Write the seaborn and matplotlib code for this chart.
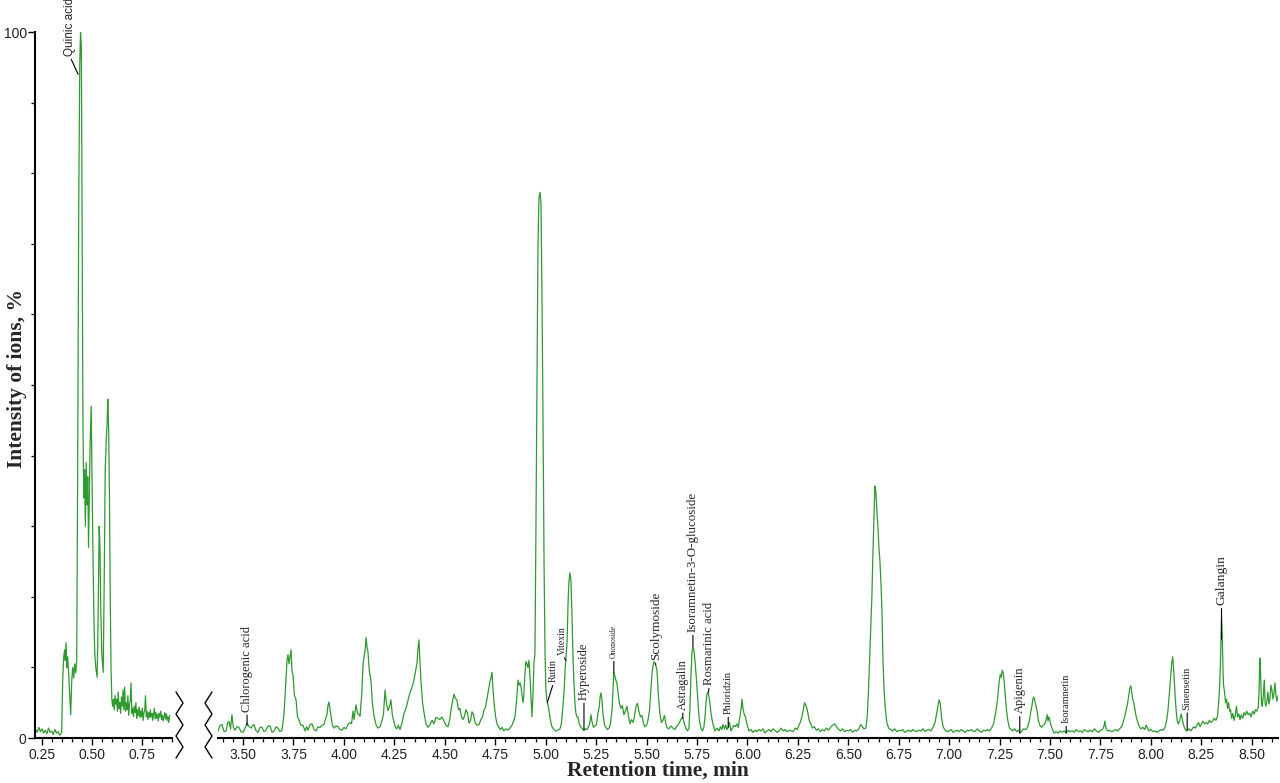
import matplotlib
matplotlib.use("Agg")
import matplotlib.pyplot as plt
from matplotlib.lines import Line2D
from matplotlib.ticker import MultipleLocator, FormatStrFormatter, FixedLocator
import pandas as pd
import seaborn as sns

# early part of the run (0.2 - 0.9 min)
left_time = [0.22, 0.228, 0.236, 0.244, 0.252, 0.26, 0.268, 0.276, 0.284, 0.292, 0.30, 0.308, 0.316,
             0.324, 0.332, 0.34, 0.35, 0.355, 0.36, 0.365, 0.368, 0.372, 0.376, 0.38, 0.385, 0.39,
             0.395, 0.40, 0.405, 0.41, 0.415, 0.42, 0.425, 0.43, 0.435, 0.44, 0.444, 0.448, 0.452,
             0.456, 0.46, 0.464, 0.468, 0.472, 0.476, 0.48, 0.484, 0.488, 0.492, 0.497, 0.50, 0.505,
             0.51, 0.515, 0.52, 0.527, 0.532, 0.537, 0.541, 0.545, 0.55, 0.557, 0.562, 0.567, 0.572,
             0.577, 0.58, 0.584, 0.588, 0.592, 0.596, 0.60, 0.604, 0.608, 0.612, 0.616, 0.62, 0.624,
             0.628, 0.632, 0.636, 0.64, 0.644, 0.648, 0.652, 0.656, 0.66, 0.664, 0.668, 0.672, 0.676,
             0.68, 0.684, 0.688, 0.692, 0.696, 0.70, 0.704, 0.708, 0.712, 0.716, 0.72, 0.724, 0.728,
             0.732, 0.736, 0.74, 0.744, 0.748, 0.752, 0.756, 0.76, 0.764, 0.768, 0.772, 0.776, 0.78,
             0.784, 0.788, 0.792, 0.796, 0.80, 0.804, 0.808, 0.812, 0.816, 0.82, 0.824, 0.828, 0.832,
             0.836, 0.84, 0.844, 0.848, 0.852, 0.856, 0.86, 0.864, 0.868, 0.872, 0.876, 0.88, 0.884,
             0.888]
left_int = [1.2, 0.8, 1.5, 0.9, 1.3, 0.7, 1.1, 0.6, 1.4, 0.8, 1.0, 0.5, 1.2,
            0.7, 0.9, 0.4, 0.8, 8.0, 11.5, 12.5, 11.0, 13.5, 10.0, 11.5, 9.0, 6.0,
            3.3, 8.0, 10.0, 8.5, 10.5, 9.2, 11.0, 40, 75, 95, 100, 98, 70,
            45, 34, 38, 30, 39, 33, 37, 27, 35, 42, 47, 40, 28,
            18, 12, 10, 8.6, 18, 30, 27, 18, 12, 9.3, 22, 38, 42,
            45, 48, 44, 35, 20, 10, 5.5, 4.5, 5.5, 4.0, 6.0, 4.8, 5.5,
            3.8, 6.5, 4.2, 5.0, 3.5, 5.8, 4.5, 6.8, 4.0, 7.2, 3.8, 5.0, 4.0,
            6.0, 3.2, 4.8, 5.2, 7.8, 3.5, 4.2, 3.0, 4.5, 3.6, 5.0, 2.8, 4.0,
            3.2, 4.4, 2.9, 3.8, 3.0, 4.2, 2.5, 3.5, 4.0, 6.0, 3.0, 3.8, 2.6,
            3.6, 2.9, 4.0, 3.0, 3.5, 2.5, 3.4, 4.2, 2.7, 3.6, 2.8, 3.3, 2.4,
            3.5, 3.0, 3.8, 2.6, 3.2, 2.4, 3.0, 3.6, 2.7, 3.4, 2.5, 3.0, 2.2,
            3.2]

# main part of the run (3.4 - 8.6 min)
right_time = [3.376, 3.386, 3.396, 3.406, 3.416, 3.424, 3.431, 3.438, 3.445, 3.452, 3.460, 3.470, 3.480,
              3.490, 3.500, 3.510, 3.520, 3.530, 3.540, 3.548, 3.555, 3.565, 3.574, 3.584, 3.594, 3.604,
              3.614, 3.624, 3.634, 3.644, 3.654, 3.664, 3.673, 3.683, 3.693, 3.703, 3.713, 3.718, 3.723,
              3.728, 3.733, 3.738, 3.743, 3.748, 3.755, 3.763, 3.770, 3.778, 3.787, 3.797, 3.808, 3.815,
              3.822, 3.832, 3.842, 3.852, 3.862, 3.872, 3.882, 3.891, 3.901, 3.910, 3.916, 3.921, 3.926,
              3.931, 3.936, 3.943, 3.951, 3.961, 3.971, 3.981, 3.991, 4.000, 4.010, 4.020, 4.030, 4.038,
              4.045, 4.050, 4.060, 4.068, 4.075, 4.080, 4.088, 4.095, 4.100, 4.105, 4.110, 4.115, 4.119,
              4.126, 4.134, 4.141, 4.149, 4.159, 4.169, 4.179, 4.189, 4.196, 4.204, 4.211, 4.219, 4.226,
              4.233, 4.240, 4.248, 4.256, 4.263, 4.270, 4.278, 4.288, 4.298, 4.308, 4.318, 4.325, 4.333,
              4.340, 4.347, 4.355, 4.362, 4.367, 4.372, 4.377, 4.382, 4.390, 4.397, 4.407, 4.417, 4.427,
              4.437, 4.446, 4.456, 4.466, 4.476, 4.486, 4.496, 4.506, 4.516, 4.524, 4.531, 4.539, 4.546,
              4.553, 4.560, 4.568, 4.575, 4.583, 4.590, 4.598, 4.605, 4.613, 4.620, 4.628, 4.635, 4.643,
              4.650, 4.660, 4.670, 4.679, 4.687, 4.694, 4.702, 4.709, 4.716, 4.724, 4.729, 4.734, 4.739,
              4.744, 4.752, 4.759, 4.767, 4.774, 4.784, 4.793, 4.803, 4.813, 4.823, 4.833, 4.840, 4.848,
              4.855, 4.860, 4.863, 4.868, 4.873, 4.878, 4.883, 4.888, 4.892, 4.897, 4.902, 4.907, 4.912,
              4.917, 4.922, 4.927, 4.932, 4.937, 4.942, 4.947, 4.952, 4.957, 4.962, 4.967, 4.972, 4.977,
              4.982, 4.987, 4.992, 4.997, 5.001, 5.006, 5.011, 5.016, 5.021, 5.026, 5.031, 5.041, 5.051,
              5.061, 5.071, 5.078, 5.086, 5.092, 5.096, 5.101, 5.106, 5.111, 5.115, 5.120, 5.125, 5.130,
              5.135, 5.140, 5.145, 5.150, 5.155, 5.160, 5.167, 5.175, 5.182, 5.190, 5.197, 5.205, 5.212,
              5.218, 5.225, 5.229, 5.237, 5.244, 5.252, 5.259, 5.266, 5.270, 5.274, 5.279, 5.284, 5.292,
              5.299, 5.306, 5.314, 5.321, 5.329, 5.334, 5.338, 5.343, 5.348, 5.353, 5.358, 5.365, 5.373,
              5.380, 5.388, 5.395, 5.403, 5.410, 5.418, 5.425, 5.433, 5.440, 5.448, 5.455, 5.462, 5.470,
              5.477, 5.485, 5.492, 5.500, 5.507, 5.515, 5.522, 5.527, 5.532, 5.537, 5.542, 5.547, 5.552,
              5.559, 5.566, 5.574, 5.581, 5.589, 5.596, 5.601, 5.611, 5.621, 5.631, 5.641, 5.648, 5.656,
              5.663, 5.670, 5.676, 5.680, 5.688, 5.695, 5.703, 5.710, 5.715, 5.720, 5.725, 5.730, 5.735,
              5.740, 5.747, 5.755, 5.762, 5.770, 5.777, 5.784, 5.790, 5.795, 5.799, 5.804, 5.809, 5.814,
              5.821, 5.829, 5.839, 5.849, 5.859, 5.866, 5.873, 5.879, 5.886, 5.893, 5.898, 5.905, 5.912,
              5.918, 5.926, 5.933, 5.940, 5.948, 5.955, 5.960, 5.965, 5.970, 5.973, 5.978, 5.983, 5.990,
              5.998, 6.007, 6.017, 6.027, 6.037, 6.047, 6.057, 6.067, 6.077, 6.087, 6.097, 6.107, 6.117,
              6.127, 6.137, 6.147, 6.157, 6.167, 6.177, 6.187, 6.197, 6.207, 6.217, 6.227, 6.237, 6.247,
              6.255, 6.262, 6.270, 6.277, 6.283, 6.290, 6.295, 6.300, 6.307, 6.315, 6.322, 6.332, 6.342,
              6.352, 6.362, 6.372, 6.382, 6.392, 6.402, 6.412, 6.422, 6.432, 6.442, 6.452, 6.462, 6.472,
              6.482, 6.492, 6.502, 6.512, 6.522, 6.532, 6.542, 6.552, 6.562, 6.570, 6.577, 6.587, 6.594,
              6.600, 6.607, 6.612, 6.617, 6.622, 6.627, 6.632, 6.637, 6.642, 6.647, 6.652, 6.657, 6.662,
              6.667, 6.672, 6.677, 6.684, 6.691, 6.700, 6.710, 6.720, 6.730, 6.740, 6.750, 6.760, 6.770,
              6.780, 6.790, 6.800, 6.810, 6.820, 6.830, 6.840, 6.850, 6.860, 6.870, 6.880, 6.890, 6.900,
              6.910, 6.920, 6.930, 6.938, 6.945, 6.950, 6.956, 6.962, 6.970, 6.980, 6.990, 7.000, 7.010,
              7.020, 7.030, 7.040, 7.050, 7.060, 7.070, 7.080, 7.090, 7.100, 7.110, 7.120, 7.130, 7.140,
              7.150, 7.160, 7.170, 7.180, 7.190, 7.200, 7.210, 7.220, 7.230, 7.240, 7.248, 7.253, 7.258,
              7.263, 7.268, 7.273, 7.278, 7.284, 7.290, 7.298, 7.306, 7.315, 7.325, 7.335, 7.345, 7.352,
              7.360, 7.370, 7.380, 7.390, 7.398, 7.405, 7.410, 7.415, 7.420, 7.425, 7.430, 7.436, 7.442,
              7.450, 7.458, 7.466, 7.474, 7.480, 7.486, 7.490, 7.494, 7.499, 7.505, 7.512, 7.520, 7.530,
              7.540, 7.550, 7.560, 7.570, 7.580, 7.590, 7.600, 7.610, 7.620, 7.630, 7.640, 7.650, 7.660,
              7.670, 7.680, 7.690, 7.700, 7.710, 7.720, 7.730, 7.740, 7.750, 7.760, 7.767, 7.772, 7.778,
              7.785, 7.795, 7.805, 7.815, 7.825, 7.835, 7.845, 7.855, 7.863, 7.870, 7.878, 7.885, 7.890,
              7.895, 7.900, 7.905, 7.910, 7.915, 7.920, 7.925, 7.932, 7.940, 7.950, 7.960, 7.970, 7.976,
              7.982, 7.990, 8.000, 8.010, 8.020, 8.030, 8.040, 8.050, 8.060, 8.070, 8.078, 8.085, 8.092,
              8.098, 8.103, 8.108, 8.112, 8.116, 8.120, 8.125, 8.130, 8.136, 8.143, 8.150, 8.155, 8.160,
              8.167, 8.175, 8.182, 8.190, 8.198, 8.205, 8.212, 8.220, 8.228, 8.236, 8.244, 8.250, 8.258,
              8.266, 8.274, 8.282, 8.290, 8.298, 8.306, 8.314, 8.322, 8.330, 8.336, 8.340, 8.343, 8.346,
              8.350, 8.354, 8.357, 8.360, 8.365, 8.370, 8.375, 8.380, 8.385, 8.390, 8.395, 8.400, 8.406,
              8.412, 8.418, 8.424, 8.430, 8.436, 8.442, 8.448, 8.455, 8.462, 8.468, 8.475, 8.482, 8.490,
              8.497, 8.505, 8.512, 8.518, 8.525, 8.532, 8.536, 8.540, 8.544, 8.548, 8.552, 8.557, 8.562,
              8.566, 8.570, 8.575, 8.580, 8.585, 8.590, 8.595, 8.600, 8.605, 8.610, 8.615, 8.620, 8.625,
              8.630]
right_int = [1.0, 1.8, 1.9, 0.9, 1.0, 2.2, 2.3, 1.3, 3.3, 1.5, 1.1, 1.6, 1.5,
             0.9, 0.8, 1.4, 2.1, 1.6, 1.4, 1.8, 1.9, 1.0, 0.8, 1.5, 1.5, 0.9,
             1.1, 1.7, 1.7, 0.8, 1.0, 1.6, 1.4, 0.9, 1.1, 3.3, 8.2, 11.0, 11.8,
             10.5, 11.5, 12.5, 9.5, 8.9, 6.0, 5.4, 3.0, 2.5, 1.8, 1.8, 1.0, 1.6,
             1.1, 1.9, 2.0, 1.2, 1.0, 1.6, 1.5, 1.8, 1.9, 2.8, 3.3, 4.6, 5.1,
             4.2, 3.2, 1.8, 1.4, 1.7, 1.6, 1.2, 1.1, 1.5, 1.3, 1.9, 2.2, 2.0,
             3.8, 2.6, 4.7, 3.5, 3.3, 3.1, 6.0, 10.5, 11.5, 12.4, 14.2, 12.8, 12.3,
             9.5, 8.2, 5.0, 3.2, 1.9, 1.4, 1.6, 2.5, 3.3, 6.8, 4.8, 3.9, 4.5,
             5.4, 3.3, 2.3, 1.5, 1.3, 1.8, 1.2, 2.1, 3.5, 4.2, 5.4, 6.2, 6.8,
             7.4, 8.2, 9.4, 10.5, 12.5, 13.9, 11.0, 8.0, 5.0, 3.6, 2.0, 1.5, 1.9,
             2.5, 2.0, 2.9, 2.8, 2.6, 3.0, 2.4, 1.8, 1.6, 2.5, 4.0, 5.3, 6.2,
             5.6, 5.4, 4.0, 4.2, 3.0, 2.6, 3.1, 4.0, 3.5, 2.1, 2.5, 3.7, 3.3,
             2.2, 1.8, 1.9, 2.6, 3.0, 3.9, 4.4, 5.5, 6.7, 8.0, 8.5, 9.3, 7.0,
             5.0, 3.0, 2.0, 1.6, 1.2, 1.5, 1.0, 1.3, 1.1, 1.4, 1.8, 2.3, 3.0,
             5.0, 7.0, 8.2, 7.5, 7.8, 7.2, 6.0, 5.0, 6.0, 9.0, 10.8, 10.5, 10.0,
             11.0, 9.0, 6.0, 3.0, 6.0, 10.6, 12.0, 30, 50, 70, 76.5, 77.3, 75.8,
             62, 45, 25, 12, 7.0, 5.4, 4.8, 4.0, 3.0, 2.2, 1.6, 1.2, 1.0,
             1.1, 1.3, 2.0, 4.5, 7.0, 9.5, 11.5, 13.5, 19.0, 22.0, 23.4, 22.5, 18.0,
             12.0, 8.0, 5.0, 3.5, 3.0, 3.0, 2.0, 1.5, 1.3, 1.1, 1.3, 1.2, 1.6,
             2.0, 3.3, 2.4, 1.5, 1.7, 1.9, 3.5, 4.5, 5.8, 6.4, 5.5, 3.5, 1.8,
             1.5, 1.2, 1.4, 2.0, 4.0, 7.0, 9.2, 8.8, 8.2, 7.8, 6.6, 5.0, 4.2,
             4.6, 3.3, 3.8, 4.5, 3.2, 2.0, 2.6, 2.2, 3.0, 4.5, 4.9, 3.8, 3.0,
             3.2, 2.0, 1.6, 1.8, 2.5, 4.0, 6.8, 9.0, 10.2, 10.8, 10.6, 10.2, 9.5,
             6.0, 3.5, 2.2, 2.5, 3.2, 2.0, 1.5, 1.3, 1.7, 1.4, 1.2, 1.6, 1.8,
             2.2, 2.6, 2.9, 2.8, 2.0, 1.4, 1.0, 1.3, 4.0, 8.5, 12.0, 13.0, 12.4,
             11.0, 8.5, 5.0, 2.5, 1.4, 1.0, 1.5, 3.0, 5.0, 6.2, 6.4, 6.0, 5.0,
             3.2, 2.0, 1.0, 1.4, 1.0, 1.6, 1.2, 1.9, 1.3, 1.8, 1.2, 1.5, 2.2,
             1.0, 1.4, 1.8, 1.6, 2.0, 1.5, 2.5, 3.5, 4.4, 5.5, 4.2, 3.5, 3.0,
             2.0, 1.0, 1.2, 0.8, 1.1, 0.9, 1.2, 1.0, 1.3, 0.7, 1.0, 1.2, 0.9,
             1.3, 1.1, 0.8, 1.0, 1.4, 1.0, 1.2, 0.9, 1.1, 1.0, 0.9, 1.4, 1.2,
             1.8, 2.2, 3.0, 4.0, 5.0, 4.6, 4.2, 3.5, 2.4, 2.0, 1.4, 1.6, 1.1,
             1.3, 0.9, 1.2, 1.0, 1.4, 1.1, 1.5, 1.8, 2.0, 1.6, 1.2, 1.0, 1.3,
             0.9, 1.1, 1.0, 1.2, 0.8, 1.1, 1.0, 1.3, 1.9, 1.6, 1.3, 1.4, 3.0,
             6.5, 12, 16, 20, 26, 31, 35.7, 34.8, 32, 30, 27, 25, 22,
             18, 11, 7, 4, 2.2, 1.4, 1.2, 1.0, 1.3, 0.9, 1.1, 1.0, 1.2,
             0.8, 1.0, 1.1, 0.9, 1.2, 1.0, 0.9, 1.1, 1.0, 1.3, 0.9, 1.1, 1.2,
             1.0, 1.5, 2.2, 3.5, 4.6, 5.4, 4.9, 3.0, 1.6, 1.1, 0.9, 1.0, 1.2,
             0.8, 1.0, 1.1, 0.9, 1.2, 1.0, 0.8, 1.1, 1.0, 1.2, 0.9, 1.0, 1.3,
             1.0, 0.8, 1.1, 1.0, 1.2, 1.0, 1.4, 2.0, 3.5, 5.5, 8.0, 9.0, 8.6,
             9.6, 9.2, 8.0, 6.0, 4.0, 2.6, 1.5, 1.2, 1.0, 1.3, 0.9, 1.1, 0.7,
             1.0, 1.3, 1.2, 1.6, 2.5, 3.8, 4.5, 5.5, 5.8, 5.2, 4.6, 3.8, 2.5,
             1.8, 1.5, 1.8, 2.0, 2.5, 3.3, 2.4, 3.0, 2.5, 1.8, 1.2, 0.7, 0.9,
             0.7, 1.0, 0.8, 1.0, 0.7, 1.1, 0.9, 1.0, 0.8, 1.2, 0.9, 1.0, 0.8,
             1.2, 1.0, 0.9, 1.1, 0.9, 1.3, 1.0, 0.8, 1.1, 1.2, 1.6, 2.4, 1.3,
             1.0, 1.1, 0.9, 1.0, 1.2, 1.0, 1.3, 1.6, 2.3, 3.0, 4.0, 5.0, 6.0,
             7.0, 7.4, 6.6, 5.5, 5.0, 4.2, 3.3, 2.5, 1.8, 1.3, 1.5, 1.2, 1.8,
             1.5, 1.0, 1.2, 0.9, 1.0, 0.8, 1.0, 1.2, 1.1, 1.5, 2.5, 4.0, 6.5,
             8.5, 10.5, 11.5, 10.0, 8.0, 6.0, 4.0, 2.5, 2.0, 2.5, 3.4, 2.8, 2.0,
             1.4, 1.0, 1.1, 1.3, 1.0, 1.3, 1.6, 1.4, 1.8, 2.2, 1.6, 2.0, 2.4,
             2.0, 2.2, 2.0, 2.5, 2.2, 2.4, 2.8, 2.5, 3.0, 5.0, 7.0, 9.0, 12.0,
             17.0, 14.0, 10.0, 7.5, 6.5, 5.0, 5.5, 4.2, 5.0, 3.8, 4.0, 2.8, 3.5,
             2.5, 3.2, 4.5, 3.0, 3.4, 2.6, 3.3, 2.8, 3.6, 3.2, 3.8, 3.3, 3.5,
             3.0, 3.8, 3.4, 4.0, 3.8, 4.3, 6.5, 11.3, 9.0, 5.0, 4.5, 6.0, 8.2,
             5.0, 4.5, 5.2, 6.5, 4.8, 5.5, 7.5, 6.8, 5.5, 6.3, 7.8, 6.0, 5.2,
             6.0]

# compound labels: name, foot of the leader on the trace, label position, font size
cmp_names = ["Chlorogenic acid", "Rutin", "Vitexin", "Hyperoside", "Ononoside", "Scolymoside",
             "Astragalin", "Isoramnetin-3-O-glucoside", "Rosmarinic acid", "Phloridzin",
             "Apigenin", "Isoramnetin", "Sinensetin", "Galangin"]
cmp_time = [3.52, 5.008, 5.10, 5.19, 5.338, 5.545, 5.68, 5.73, 5.806, 5.905, 7.35, 7.58, 8.18, 8.35]
cmp_foot = [1.8, 5.0, 11.0, 1.1, 9.2, 10.4, 2.8, 13.0, 6.4, 1.5, 0.7, 0.7, 1.1, 14.0]
cmp_label_time = [3.52, 5.04, 5.085, 5.19, 5.338, 5.548, 5.68, 5.73, 5.812, 5.905, 7.35, 7.58, 8.18, 8.35]
cmp_label_int = [3.7, 7.9, 11.8, 5.4, 11.3, 11.0, 4.0, 15.0, 7.5, 3.4, 3.5, 2.1, 4.0, 18.8]
cmp_size = [9, 7.5, 7, 9, 5.5, 9.5, 8.7, 9.4, 9.2, 7.5, 9, 7.5, 7.5, 9.7]

green = "#2f9a2f"
sns.set_style("ticks")
plt.rcParams['font.family'] = ['Liberation Sans', 'DejaVu Sans']

left = pd.DataFrame({"time": left_time, "intensity": left_int})
right = pd.DataFrame({"time": right_time, "intensity": right_int})

fig = plt.figure(figsize=(12.8, 7.83), dpi=100)
ax1 = fig.add_axes([35 / 1280, 45 / 783, 137 / 1280, 706 / 783])
ax2 = fig.add_axes([218 / 1280, 45 / 783, 1060 / 1280, 706 / 783])

sns.lineplot(data=left, x="time", y="intensity", ax=ax1, color=green, linewidth=0.9,
             estimator=None, sort=False)
sns.lineplot(data=right, x="time", y="intensity", ax=ax2, color=green, linewidth=0.9,
             estimator=None, sort=False)

for ax in (ax1, ax2):
    ax.set_ylim(0, 100)
    ax.set_xlabel("")
    ax.set_ylabel("")
    ax.set_facecolor("none")
    ax.xaxis.set_major_locator(MultipleLocator(0.25))
    ax.xaxis.set_minor_locator(MultipleLocator(0.05))
    ax.xaxis.set_major_formatter(FormatStrFormatter("%.2f"))
    ax.tick_params(axis="x", which="major", length=5, width=1, color="black",
                   labelsize=10, labelcolor="#222222", pad=2)
    ax.tick_params(axis="x", which="minor", length=3, width=0.9, color="black")
    ax.spines["bottom"].set_linewidth(1.5)
    ax.spines["bottom"].set_color("black")
    ax.spines["top"].set_visible(False)
    ax.spines["right"].set_visible(False)

ax1.set_xlim(0.217, 0.90)
ax2.set_xlim(3.376, 8.63)

ax1.spines["left"].set_linewidth(1.5)
ax1.spines["left"].set_color("black")
ax1.yaxis.set_major_locator(FixedLocator([0, 100]))
ax1.yaxis.set_minor_locator(FixedLocator([10, 20, 30, 40, 50, 60, 70, 80, 90]))
ax1.tick_params(axis="y", which="major", length=5, width=1, color="black",
                labelsize=10, labelcolor="#222222", pad=1)
ax1.tick_params(axis="y", which="minor", length=3, width=0.9, color="black")

ax2.spines["left"].set_visible(False)
ax2.set_yticks([])

serif = ['Liberation Serif', 'DejaVu Serif']
ax1.annotate("Quinic acid", xy=(0.432, 94), xytext=(0.39, 96.6), rotation=90,
             ha="center", va="bottom", fontsize=8.5, annotation_clip=False,
             arrowprops=dict(arrowstyle="-", color="black", lw=0.8, shrinkA=0, shrinkB=0,
                             relpos=(0.5, 0)))

for name, t, foot, lt, li, fs in zip(cmp_names, cmp_time, cmp_foot, cmp_label_time,
                                      cmp_label_int, cmp_size):
    ax2.annotate(name, xy=(t, foot), xytext=(lt, li), rotation=90, ha="center", va="bottom",
                 fontsize=fs, family=serif, annotation_clip=False,
                 arrowprops=dict(arrowstyle="-", color="black", lw=0.8, shrinkA=0, shrinkB=0,
                                 relpos=(0.5, 0)))

# axis break marks
def zigzag(x_a, x_b):
    ys = [692, 703, 714, 725, 736, 747, 758]
    xs = [x_a if i % 2 == 0 else x_b for i in range(len(ys))]
    fig.add_artist(Line2D([x / 1280 for x in xs], [1 - y / 783 for y in ys],
                          transform=fig.transFigure, color="black", lw=1))

zigzag(176, 183)
zigzag(212, 205)

fig.text(17 / 1280, 1 - 378 / 783, "Intensity of ions, %", rotation=90, ha="center", va="center",
         fontsize=15.5, fontweight="bold", family=serif)
fig.text(658 / 1280, 1 - 771 / 783, "Retention time, min", ha="center", va="center",
         fontsize=15.5, fontweight="bold", family=serif)

fig.savefig("out.png", dpi=100, facecolor="white")
